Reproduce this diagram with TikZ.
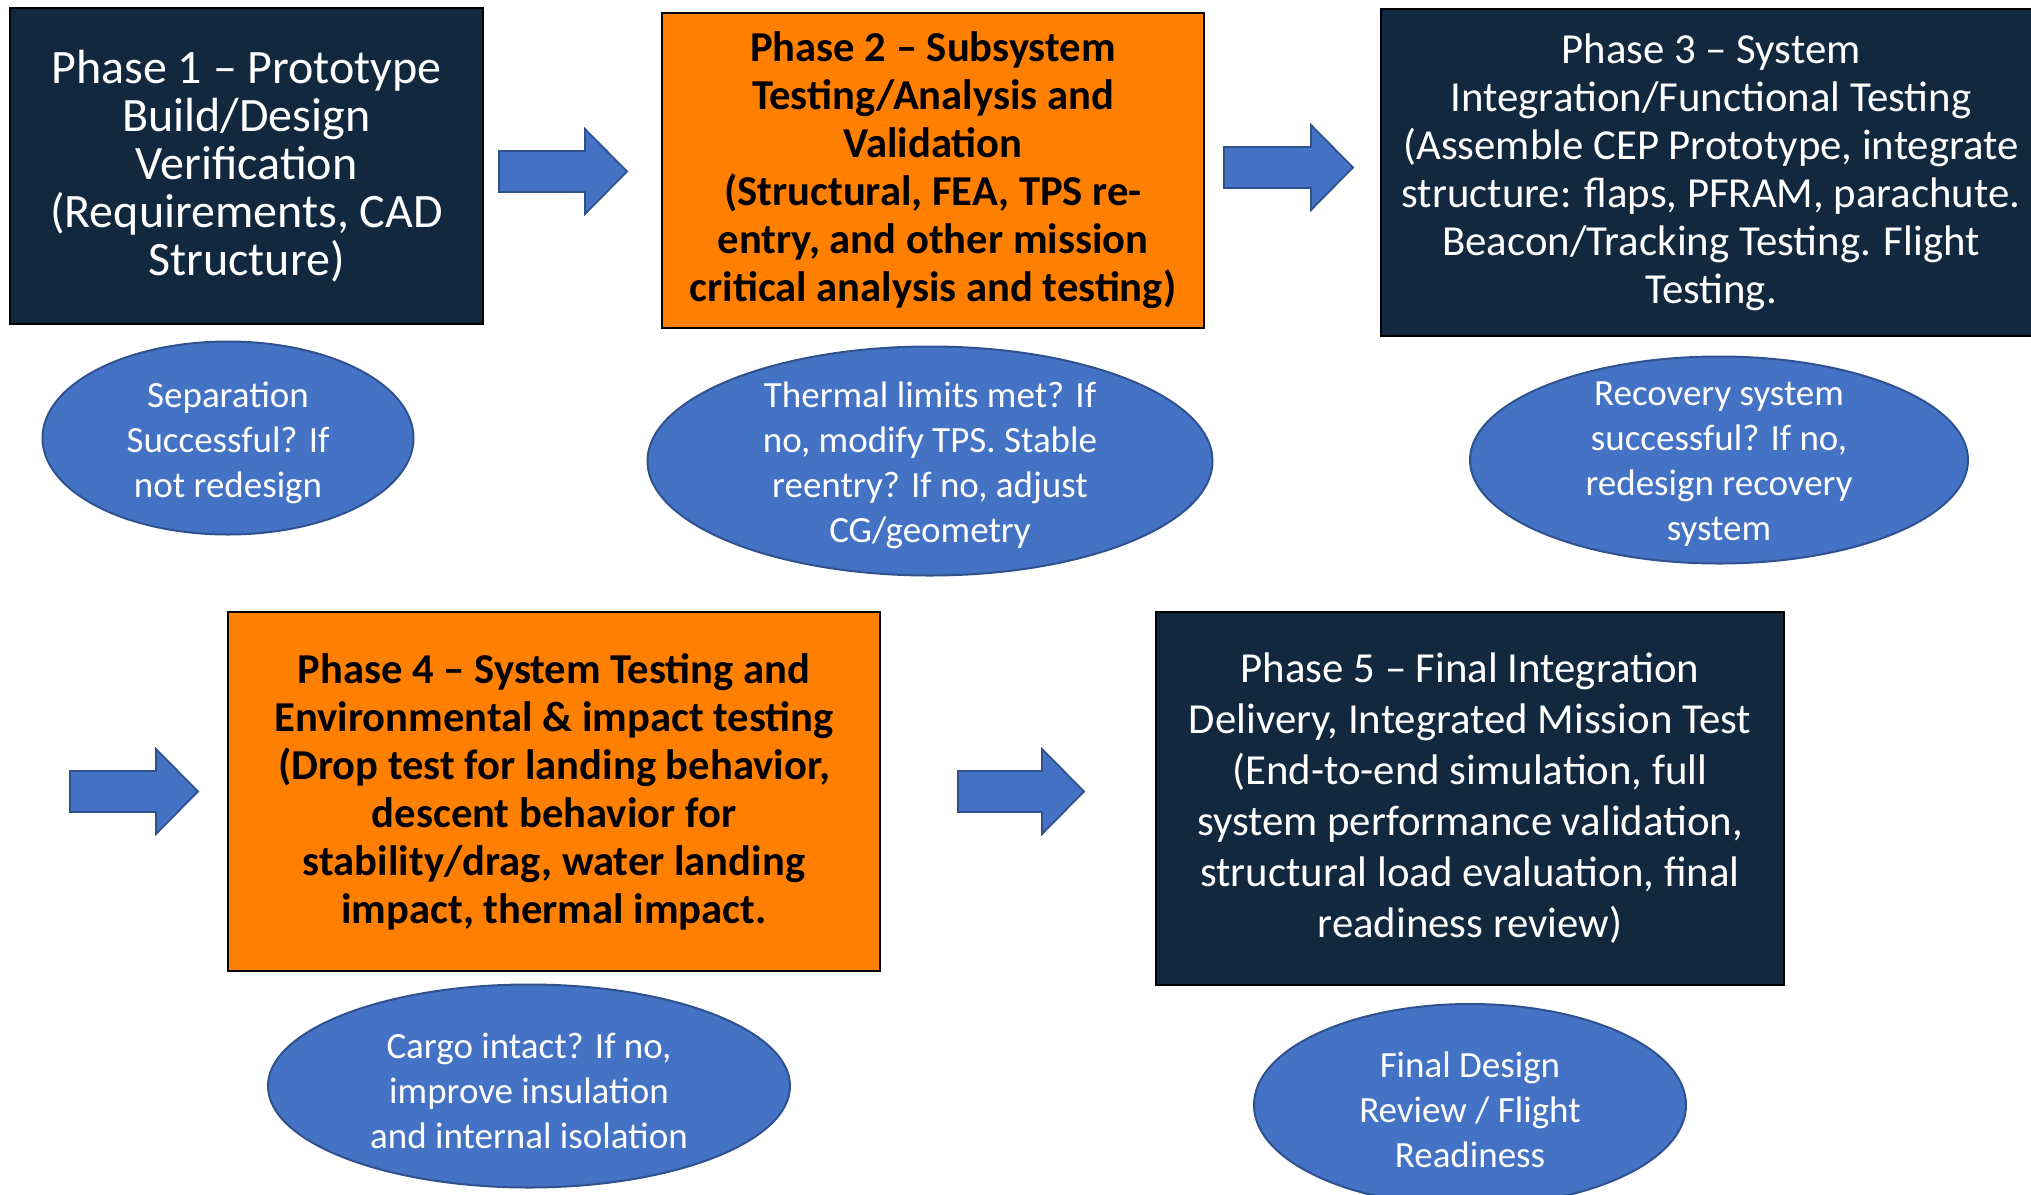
\documentclass[tikz,border=0pt]{standalone}
\usepackage{fontspec}
\setmainfont{Carlito}
\usetikzlibrary{shapes.geometric,positioning}
\definecolor{navy}{HTML}{12283F}
\definecolor{phaseorange}{HTML}{FF8000}
\definecolor{ovalblue}{HTML}{4472C4}
\definecolor{ovalline}{HTML}{2F528F}

\begin{document}
\begin{tikzpicture}[x=0.5pt,y=-0.5pt,
    darkbox/.style={draw=black,line width=1.2pt,fill=navy,text=white,align=center,
      font=\fontsize{21.4}{24}\selectfont},
    orangebox/.style={draw=black,line width=1.2pt,fill=phaseorange,text=black,align=center,
      font=\fontsize{21.3}{24}\selectfont\bfseries},
    oval/.style={ellipse,draw=ovalline,line width=1pt,fill=ovalblue,inner sep=0pt},
    ovaltext/.style={text=white,align=center,yshift=-2.25pt,
      font=\fontsize{18.5}{22.5}\selectfont},
    blockarrow/.style={draw=ovalline,line width=0.9pt,fill=ovalblue}]
  \useasboundingbox (0,0) rectangle (2031,1195);

  % phases
  \node(p1) at (246.5,166) [darkbox,minimum width=236.5pt,minimum height=158pt,
      font=\fontsize{24}{24}\selectfont]
    {Phase 1 -- Prototype\\Build/Design\\Verification\\(Requirements, CAD\\Structure)};
  \node(p2) at (933,170.5) [orangebox,minimum width=271pt,minimum height=157.5pt]
    {Phase 2 -- Subsystem\\Testing/Analysis and\\Validation\\(Structural, FEA, TPS re-\\entry, and other mission\\critical analysis and testing)};
  \node(p3) at (1711,172.5) [darkbox,minimum width=330pt,minimum height=163.5pt]
    {Phase 3 -- System\\Integration/Functional Testing\\(Assemble CEP Prototype, integrate\\structure: flaps, PFRAM, parachute.\\Beacon/Tracking Testing. Flight\\Testing.};
  \node(p4) at (554,791.5) [orangebox,minimum width=326pt,minimum height=179.5pt]
    {Phase 4 -- System Testing and\\Environmental \& impact testing\\(Drop test for landing behavior,\\descent behavior for\\stability/drag, water landing\\impact, thermal impact.};
  \node(p5) at (1470,798.5) [darkbox,minimum width=314pt,minimum height=186.5pt,
      font=\fontsize{21.4}{25.5}\selectfont]
    {Phase 5 -- Final Integration\\Delivery, Integrated Mission Test\\(End-to-end simulation, full\\system performance validation,\\structural load evaluation, final\\readiness review)};

  % checks
  \node(e1) at (228,438) [oval,minimum width=185.5pt,minimum height=96.5pt,
    label={[ovaltext]center:{Separation\\Successful? If\\not redesign}}] {};
  \node(e2) at (930,461) [oval,minimum width=282.5pt,minimum height=114.5pt,
    label={[ovaltext]center:{Thermal limits met? If\\no, modify TPS. Stable\\reentry? If no, adjust\\CG/geometry}}] {};
  \node(e3) at (1719,460) [oval,minimum width=249pt,minimum height=103.5pt,
    label={[ovaltext]center:{Recovery system\\successful? If no,\\redesign recovery\\system}}] {};
  \node(e4) at (529,1086) [oval,minimum width=261pt,minimum height=101.5pt,
    label={[ovaltext]center:{Cargo intact? If no,\\improve insulation\\and internal isolation}}] {};
  \node(e5) at (1470,1105) [oval,minimum width=216pt,minimum height=101pt,
    label={[ovaltext]center:{Final Design\\Review / Flight\\Readiness}}] {};

  % block arrows
  \foreach \ax/\ay/\al in {499/171.5/128, 1224/167.5/129, 70/791.5/128, 958/791.5/126}
    \draw[blockarrow] (\ax,\ay-20.5) -- ++(\al-42,0) -- ++(0,-22) -- (\ax+\al,\ay)
      -- (\ax+\al-42,\ay+42.5) -- ++(0,-22) -- (\ax,\ay+20.5) -- cycle;
\end{tikzpicture}
\end{document}
